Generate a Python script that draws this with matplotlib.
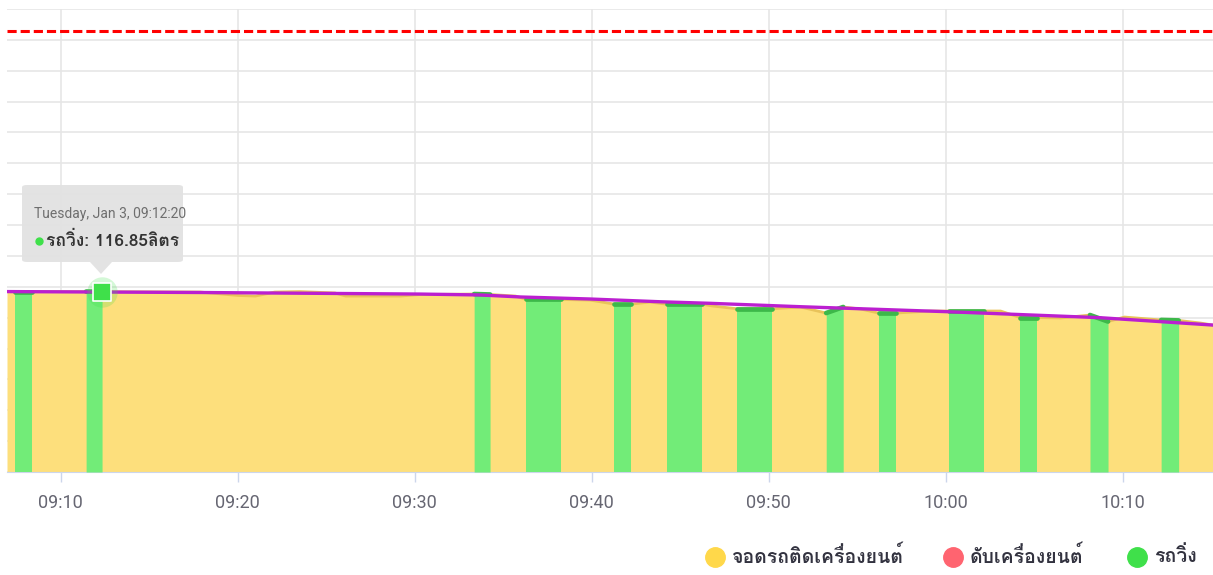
import numpy as np
import pandas as pd
import matplotlib
matplotlib.use("Agg")
import matplotlib.pyplot as plt
import matplotlib.dates as mdates
from matplotlib import font_manager, ft2font
from matplotlib.patches import FancyBboxPatch, Polygon
from matplotlib.lines import Line2D

# minutes after 09:00 on Tue 3 Jan, fuel reading (litres)
fuel_min = [6.97, 8.38, 11.44, 12.34, 17.9, 20.0, 21.0, 22.1, 23.5, 25.5, 26.1, 29.2,
            30.3, 33.36, 34.26, 35.7, 36.3, 38.28, 39.9, 41.27, 42.23, 43.3, 44.26,
            46.24, 46.8, 47.8, 48.22, 50.2, 51.8, 53.25, 54.21, 55.2, 56.2, 57.18,
            59.1, 60.17, 62.16, 63.1, 64.2, 65.16, 66.5, 68.15, 69.17, 70.1, 72.17,
            73.16, 74.4, 75.1]
fuel_litres = [116.9, 116.9, 116.9, 116.85, 116.6, 114.4, 114.0, 116.6, 116.9, 116.0,
               114.0, 114.0, 115.0, 115.3, 115.0, 114.0, 111.8, 111.8, 111.4, 108.8,
               108.8, 110.1, 108.7, 108.7, 107.6, 106.3, 105.8, 105.8, 106.9, 103.0,
               106.9, 105.6, 103.0, 103.0, 104.3, 104.3, 104.3, 104.3, 100.1, 100.1,
               99.8, 101.7, 97.5, 100.4, 98.5, 98.2, 96.5, 95.2]

# smoothed fuel trend (purple line)
trend_min = [6.97, 17.9, 30.3, 33.7, 36.0, 39.9, 43.9, 46.7, 51.8, 60.0, 68.7, 75.1]
trend_litres = [116.9, 116.3, 115.3, 114.7, 113.4, 112.1, 110.3, 109.3, 107.1, 103.9,
                100.0, 95.2]

# driving periods (minutes after 09:00)
drive_start = [7.42, 11.44, 33.36, 36.30, 41.27, 44.26, 48.22, 53.25, 56.21, 60.17,
               64.20, 68.15, 72.17]
drive_end = [8.38, 12.34, 34.26, 38.28, 42.23, 46.24, 50.20, 54.21, 57.18, 62.16,
             65.16, 69.17, 73.16]

tank_limit = 286
legend_labels = ["จอดรถติดเครื่องยนต์", "ดับเครื่องยนต์", "รถวิ่ง"]
legend_colors = ["#FFD84A", "#FF6470", "#3FE04A"]


def find_thai_font():
    for f in font_manager.fontManager.ttflist:
        try:
            if 0x0E23 in ft2font.FT2Font(f.fname).get_charmap():
                return f.name
        except Exception:
            pass
    return None


thai = find_thai_font()
fam = [thai, "DejaVu Sans"] if thai else ["DejaVu Sans"]
narrow = ["Roboto", "DejaVu Sans"]
plt.rcParams["font.family"] = fam

base = pd.Timestamp("2023-01-03 09:00:00")
to_time = lambda m: base + pd.to_timedelta(np.asarray(m, dtype=float), unit="m")

t = to_time(fuel_min)
fuel = np.array(fuel_litres)

fig = plt.figure(figsize=(12.13, 5.75), dpi=100)
ax = fig.add_axes([7 / 1213, 1 - 472 / 575, 1 - 7 / 1213, (472 - 9) / 575])

# engine on, parked (yellow)
ax.fill_between(t, 0, fuel, color="#FDDF7C", lw=0, zorder=2)
ax.plot(t, fuel, color="#E9C35A", lw=2, zorder=2)

# driving (green)
fm = np.array(fuel_min)
for s, e in zip(drive_start, drive_end):
    inner = fm[(fm > s) & (fm < e)]
    mins = np.concatenate([[s], inner, [e]])
    vals = np.interp(mins, fm, fuel)
    tt = to_time(mins)
    ax.fill_between(tt, 0, vals, color="#72EC78", lw=0, zorder=3)
    ax.plot(tt, vals, color="#3DB84A", lw=3.4, solid_capstyle="round", zorder=3)

ax.plot(to_time(trend_min), trend_litres, color="#BB1FD0", lw=2.4, zorder=5)
ax.axhline(tank_limit, color="#FF0000", lw=2.2, dashes=(3, 1.3), zorder=4)

# hovered point
hx = to_time([12.33])[0]
ax.scatter([hx], [116.85], s=480, color="#3FE04A", alpha=0.22, lw=0, zorder=6)
ax.scatter([hx], [116.85], s=160, marker="s", color="#3FE04A", edgecolor="white",
           lw=1.2, zorder=7)

ax.set_ylim(0, 300)
ax.set_yticks(np.arange(0, 301, 20))
ax.set_xlim(to_time([6.97])[0], to_time([75.1])[0])
ax.xaxis.set_major_locator(mdates.MinuteLocator(byminute=range(0, 60, 10)))
ax.xaxis.set_major_formatter(mdates.DateFormatter("%H:%M"))
ax.grid(True, color="#E6E6E6", lw=1.2, zorder=0)
ax.set_axisbelow(True)
ax.tick_params(axis="y", left=False, labelleft=False)
ax.tick_params(axis="x", length=7, width=1, color="#CCD6EB", labelcolor="#666672",
               labelsize=13, pad=9)
for lab in ax.get_xticklabels():
    lab.set_family(narrow)
for side in ["left", "right", "top"]:
    ax.spines[side].set_visible(False)
ax.spines["bottom"].set_color("#CCD6EB")

# tooltip
W, H = 1213, 575
box = FancyBboxPatch((22 / W, 1 - 262 / H), 161 / W, 77 / H,
                     boxstyle="round,pad=0,rounding_size=0.004",
                     transform=fig.transFigure, facecolor="#E2E2E2", edgecolor="none",
                     alpha=0.95, zorder=10)
fig.add_artist(box)
fig.add_artist(Polygon([(90 / W, 1 - 262 / H), (112 / W, 1 - 262 / H), (101 / W, 1 - 274 / H)],
                       closed=True, transform=fig.transFigure, facecolor="#E2E2E2",
                       edgecolor="none", alpha=0.95, zorder=10))
fig.text(34 / W, 1 - 214 / H, "Tuesday, Jan 3, 09:12:20", family=narrow, fontsize=10,
         color="#6E6E6E", va="center", zorder=11)
fig.add_artist(Line2D([38.5 / W], [1 - 241 / H], marker="o", ms=5, color="#3FE04A",
                      transform=fig.transFigure, zorder=11))
fig.text(46 / W, 1 - 240 / H, "รถวิ่ง: 116.85ลิตร", fontsize=12.5, fontweight="bold",
         color="#333333", va="center", zorder=11)

# legend
leg_x = [715, 953, 1137]
for x, c, lab in zip(leg_x, legend_colors, legend_labels):
    fig.add_artist(Line2D([x / W], [1 - 557 / H], marker="o", ms=14, color=c,
                          transform=fig.transFigure))
    fig.text((x + 17) / W, 1 - 556 / H, lab, fontsize=14, fontweight="bold",
             color="#333340", va="center")

fig.savefig("out.png", dpi=100)
plt.close(fig)
